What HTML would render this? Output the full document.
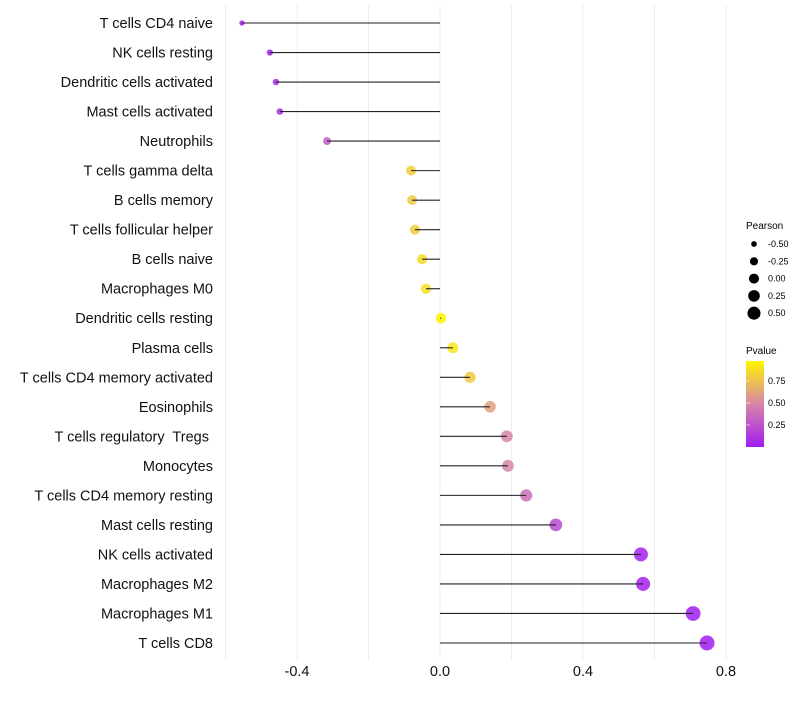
<!DOCTYPE html>
<html><head><meta charset="utf-8"><style>
body{margin:0;background:#fff;font-family:"Liberation Sans",sans-serif}
text{white-space:pre}
</style></head><body>
<svg id="chart" width="800" height="700" xmlns="http://www.w3.org/2000/svg">
<defs><linearGradient id="pg" x1="0" y1="1" x2="0" y2="0">
<stop offset="0" stop-color="#A21CF2"/><stop offset="0.5" stop-color="#D786A8"/><stop offset="1" stop-color="#FFF500"/></linearGradient></defs>
<g id="grid"></g>
<g id="marks"></g>
<g id="ylabels"></g>
<g id="xlabels"></g>
<g font-size="9" fill="#000">
<text x="746" y="229" font-size="10">Pearson</text>
<g id="sizeleg"></g>
</g>
<g font-size="9">
<text x="746" y="354" font-size="10">Pvalue</text>
<rect x="746" y="361" width="18" height="86" fill="url(#pg)"/>
<g id="colleg"></g>
</g>
</svg>
<script>
const categories=["T cells CD4 naive","NK cells resting","Dendritic cells activated","Mast cells activated","Neutrophils","T cells gamma delta","B cells memory","T cells follicular helper","B cells naive","Macrophages M0","Dendritic cells resting","Plasma cells","T cells CD4 memory activated","Eosinophils","T cells regulatory  Tregs ","Monocytes","T cells CD4 memory resting","Mast cells resting","NK cells activated","Macrophages M2","Macrophages M1","T cells CD8"];
const pearson=[-0.554,-0.476,-0.459,-0.448,-0.316,-0.081,-0.078,-0.070,-0.050,-0.039,0.003,0.036,0.084,0.140,0.187,0.190,0.241,0.324,0.562,0.568,0.708,0.747];
const pvalues=[0.01,0.03,0.05,0.07,0.3,0.82,0.8,0.82,0.88,0.9,0.99,0.93,0.8,0.62,0.5,0.5,0.38,0.22,0.03,0.03,0.002,0.001];
const xTicks=[-0.4,0.0,0.4,0.8];
const sizeLegend=[-0.5,-0.25,0,0.25,0.5];
const colLegend=[0.25,0.5,0.75];
const NS="http://www.w3.org/2000/svg";
const x=v=>440+v*357.5;
const y=i=>23+i*(620/21);
const r=v=>Math.sqrt(Math.max(1.5,28+38*v));
const pv2y=p=>447-p*88;
function mix(a,b,t){return a.map((c,k)=>Math.round(c+(b[k]-c)*t));}
function col(p){const A=[162,28,242],B=[215,134,168],C=[255,245,0];
const c=p<0.5?mix(A,B,p/0.5):mix(B,C,(p-0.5)/0.5);return `rgb(${c.join(',')})`;}
function mk(tag,attrs,parent){const e=document.createElementNS(NS,tag);for(const k in attrs)e.setAttribute(k,attrs[k]);parent.appendChild(e);return e;}
const grid=document.getElementById('grid'),marks=document.getElementById('marks'),yl=document.getElementById('ylabels'),xl=document.getElementById('xlabels');
for(let v=-0.6;v<=0.81;v+=0.2){const g=mk('line',{x1:x(v),x2:x(v),y1:5,y2:660,stroke:'#efefef','stroke-width':1},grid);

}
categories.forEach((c,i)=>{
const ci=mk('circle',{cx:x(pearson[i]),cy:y(i),r:r(pearson[i]),fill:col(pvalues[i]),'fill-opacity':0.85},marks);


const s=mk('line',{x1:x(0),x2:x(pearson[i]),y1:y(i),y2:y(i),stroke:'#222','stroke-width':1.1},marks);


const t=mk('text',{x:213,y:y(i)+5,'text-anchor':'end','font-size':14.5,fill:'#111'},yl);t.textContent=c;


});
xTicks.forEach(v=>{const t=mk('text',{x:x(v),y:676,'text-anchor':'middle','font-size':14.5,fill:'#111'},xl);t.textContent=v.toFixed(1);

});
const sl=document.getElementById('sizeleg');
sizeLegend.forEach((v,i)=>{const cy=244+i*17.3;
const c=mk('circle',{cx:754,cy:cy,r:r(v)*0.95,fill:'#000'},sl);


const t=mk('text',{x:768,y:cy+3,'font-size':9},sl);t.textContent=v.toFixed(2);

});
const cl=document.getElementById('colleg');
colLegend.forEach(p=>{const yy=pv2y(p);
const tk=mk('line',{x1:746,x2:750,y1:yy,y2:yy,stroke:'#fff','stroke-width':0.6},cl);


const t=mk('text',{x:768,y:yy+3,'font-size':9},cl);t.textContent=p.toFixed(2);

});
</script>
</body></html>
